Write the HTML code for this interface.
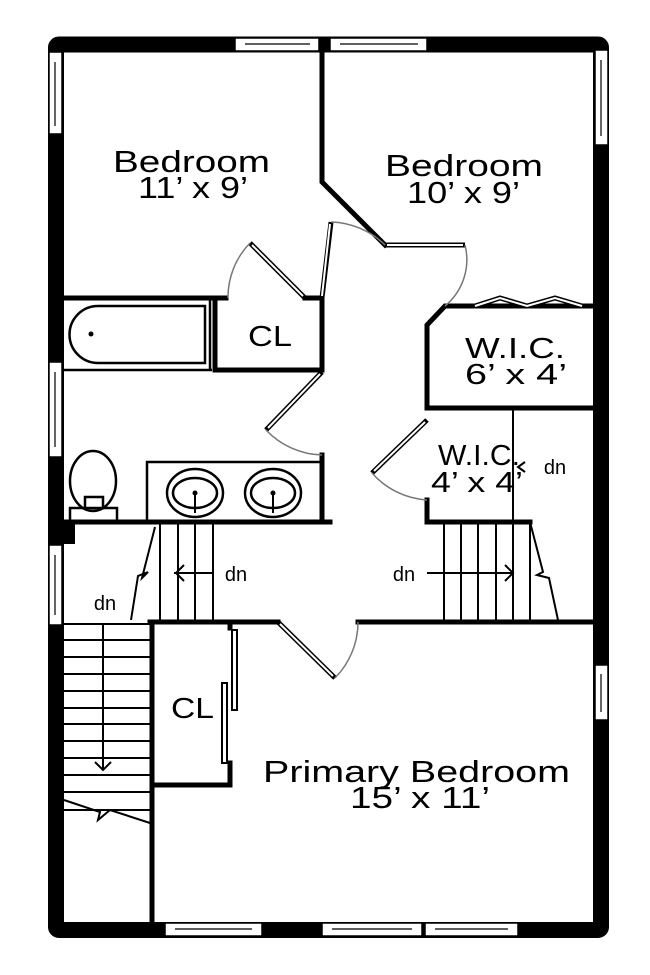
<!DOCTYPE html>
<html><head><style>html,body{margin:0;padding:0;background:#fff}svg{display:block}text{font-family:"Liberation Sans",sans-serif;fill:#000}</style></head>
<body>
<svg width="650" height="975" viewBox="0 0 650 975">
<g fill="none" stroke="#000">
<rect x="56" y="44.5" width="545" height="885.5" stroke-width="16" rx="3"/>
</g>
<g fill="#fff" stroke="#000" stroke-width="1.5">
<rect x="235" y="38" width="84" height="13"/><rect x="330" y="38" width="97" height="13"/>
<rect x="595" y="50" width="13" height="95"/><rect x="595" y="665" width="13" height="55"/>
<rect x="49" y="52" width="13" height="82"/><rect x="49" y="362" width="13" height="95"/><rect x="49" y="545" width="13" height="80"/>
<rect x="165" y="923" width="97" height="13"/><rect x="322" y="923" width="100" height="13"/><rect x="425" y="923" width="93" height="13"/>
</g>
<g stroke="#000" stroke-width="1.2">
<line x1="245" y1="44" x2="310" y2="44"/><line x1="340" y1="44" x2="418" y2="44"/>
<line x1="601" y1="60" x2="601" y2="136"/><line x1="601" y1="674" x2="601" y2="712"/>
<line x1="55" y1="62" x2="55" y2="126"/><line x1="55" y1="372" x2="55" y2="447"/><line x1="55" y1="555" x2="55" y2="615"/>
<line x1="175" y1="929" x2="252" y2="929"/><line x1="332" y1="929" x2="412" y2="929"/><line x1="435" y1="929" x2="508" y2="929"/>
</g>
<rect x="62" y="522" width="13" height="22" fill="#000"/>
<g fill="none" stroke="#000" stroke-width="5" stroke-linecap="square">
<polyline points="322,52 322,182 385,245"/>
<line x1="64" y1="298" x2="226" y2="298"/>
<line x1="305" y1="298" x2="322" y2="298"/>
<line x1="322" y1="298" x2="322" y2="370"/>
<line x1="215" y1="298" x2="215" y2="370"/>
<line x1="215" y1="370" x2="322" y2="370"/>
<line x1="322" y1="455" x2="322" y2="522"/>
<line x1="64" y1="522" x2="330" y2="522"/>
<line x1="150" y1="622" x2="278" y2="622"/>
<line x1="358" y1="622" x2="594" y2="622"/>
<line x1="152" y1="622" x2="152" y2="922"/>
<polyline points="230,763 230,785 152,785"/>
<line x1="230" y1="624" x2="230" y2="628"/>
<polyline points="427,408 427,325 445,306 594,306"/>
<line x1="427" y1="408" x2="594" y2="408"/>
<line x1="427" y1="500" x2="427" y2="522"/>
<line x1="427" y1="522" x2="530" y2="522"/>
</g>
<g fill="none" stroke="#000" stroke-width="5">
<line x1="385" y1="245" x2="465" y2="245"/><line x1="250" y1="243" x2="305" y2="298"/>
<line x1="322" y1="298" x2="331" y2="222"/><line x1="322" y1="372" x2="266" y2="430"/>
<line x1="278" y1="622" x2="335" y2="678"/><line x1="427" y1="420" x2="372" y2="473"/>
<polyline points="475,306 500,298 527,306 555,298 582,306"/>
</g>
<g fill="none" stroke="#fff" stroke-width="2">
<line x1="387" y1="245" x2="463" y2="245"/><line x1="252" y1="245" x2="303" y2="296"/>
<line x1="322" y1="296" x2="330" y2="224"/><line x1="320" y1="374" x2="268" y2="428"/>
<line x1="280" y1="624" x2="333" y2="676"/><line x1="425" y1="422" x2="374" y2="471"/>
<polyline points="475,306 500,298 527,306 555,298 582,306"/>
</g>
<g fill="#fff" stroke="#000" stroke-width="2">
<rect x="232" y="630" width="5" height="80"/><rect x="222" y="683" width="5" height="80"/>
</g>
<g fill="none" stroke="#777" stroke-width="1.5">
<path d="M250,243 A78,78 0 0 0 228,298"/>
<path d="M331,222 A80,80 0 0 1 385,245"/>
<path d="M465,245 A60,60 0 0 1 445,306"/>
<path d="M266,430 A80,80 0 0 0 322,455"/>
<path d="M335,678 A80,80 0 0 0 358,622"/>
<path d="M372,473 A80,80 0 0 0 427,500"/>
</g>
<g fill="none" stroke="#000" stroke-width="2.5">
<line x1="64" y1="370" x2="212" y2="370"/>
<line x1="210" y1="300" x2="210" y2="370"/>
<path d="M98,306 H205 V363 H98 A28.5,28.5 0 0 1 98,306 Z"/>
<rect x="147" y="462" width="175" height="60"/>
<ellipse cx="195" cy="493" rx="28" ry="24"/><ellipse cx="195" cy="493" rx="22" ry="15"/>
<ellipse cx="273" cy="493" rx="28" ry="24"/><ellipse cx="273" cy="493" rx="22" ry="15"/>
<ellipse cx="93" cy="481" rx="23" ry="30"/>
<rect x="70" y="508" width="47" height="13"/><rect x="85" y="497" width="18" height="11" fill="#fff"/>
</g>
<g fill="#000"><circle cx="91" cy="334" r="2.5"/><circle cx="195" cy="493" r="2.5"/><circle cx="273" cy="493" r="2.5"/></g>
<g stroke="#000" stroke-width="2"><line x1="195" y1="493" x2="195" y2="513"/><line x1="273" y1="493" x2="273" y2="513"/></g>
<g fill="none" stroke="#000" stroke-width="2">
<line x1="160" y1="522" x2="160" y2="622"/><line x1="178" y1="522" x2="178" y2="622"/><line x1="195" y1="522" x2="195" y2="622"/><line x1="213" y1="522" x2="213" y2="622"/>
<polyline points="155,527 142,578 148,572 138,576 131,620"/>
<line x1="174" y1="573" x2="213" y2="573"/><polyline points="184,565 176,573 184,581"/>
<line x1="64" y1="624" x2="150" y2="624"/>
<line x1="64" y1="640" x2="150" y2="640"/><line x1="64" y1="657" x2="150" y2="657"/><line x1="64" y1="674" x2="150" y2="674"/><line x1="64" y1="691" x2="150" y2="691"/><line x1="64" y1="708" x2="150" y2="708"/><line x1="64" y1="724" x2="150" y2="724"/><line x1="64" y1="741" x2="150" y2="741"/><line x1="64" y1="758" x2="150" y2="758"/><line x1="64" y1="775" x2="150" y2="775"/><line x1="64" y1="792" x2="150" y2="792"/><line x1="64" y1="810" x2="150" y2="810"/>
<line x1="103" y1="624" x2="103" y2="770"/><polyline points="95,762 103,770 111,762"/>
<polyline points="64,800 100,812 98,820 110,810 150,823"/>
<line x1="444" y1="522" x2="444" y2="622"/><line x1="461" y1="522" x2="461" y2="622"/><line x1="478" y1="522" x2="478" y2="622"/><line x1="496" y1="522" x2="496" y2="622"/><line x1="513" y1="408" x2="513" y2="622"/><line x1="530" y1="522" x2="530" y2="622"/>
<polyline points="530,522 543,572 537,575 549,578 558,620"/>
<line x1="427" y1="573" x2="513" y2="573"/><polyline points="505,565 513,573 505,581"/>
<polyline points="525,462 518,467 525,472"/>
</g>
<g font-size="31" lengthAdjust="spacingAndGlyphs">
<text x="113" y="172" textLength="157" lengthAdjust="spacingAndGlyphs">Bedroom</text><text x="138" y="198" textLength="110" lengthAdjust="spacingAndGlyphs">11’ x 9’</text>
<text x="385" y="176" textLength="158" lengthAdjust="spacingAndGlyphs">Bedroom</text><text x="407" y="203" textLength="113" lengthAdjust="spacingAndGlyphs">10’ x 9’</text>
<text x="263" y="782" textLength="307" lengthAdjust="spacingAndGlyphs">Primary Bedroom</text><text x="350" y="808" textLength="140" lengthAdjust="spacingAndGlyphs">15’ x 11’</text>
</g>
<g font-size="29">
<text x="248" y="346" textLength="44" lengthAdjust="spacingAndGlyphs">CL</text><text x="171" y="718" textLength="43" lengthAdjust="spacingAndGlyphs">CL</text>
<text x="465" y="358" textLength="100" lengthAdjust="spacingAndGlyphs">W.I.C.</text><text x="465" y="384" textLength="102" lengthAdjust="spacingAndGlyphs">6’ x 4’</text>
<text x="438" y="465" textLength="82" lengthAdjust="spacingAndGlyphs">W.I.C.</text><text x="431" y="492" textLength="92" lengthAdjust="spacingAndGlyphs">4’ x 4’</text>
</g>
<g font-size="20" text-anchor="middle">
<text x="236" y="581">dn</text><text x="404" y="581">dn</text><text x="105" y="610">dn</text><text x="555" y="474">dn</text>
</g>
</svg>
</body></html>
